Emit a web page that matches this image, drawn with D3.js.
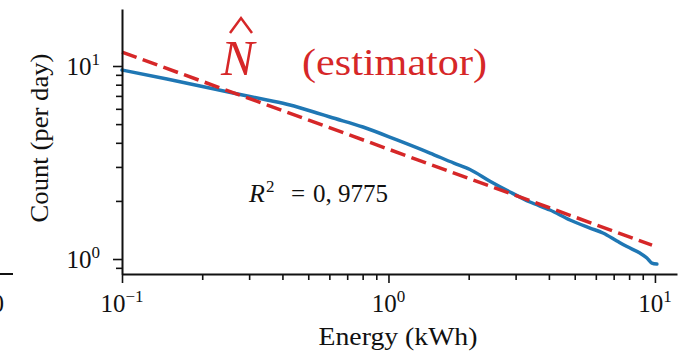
<!DOCTYPE html>
<html>
<head>
<meta charset="utf-8">
<script src="https://cdn.jsdelivr.net/npm/d3@7"></script>
<style>
  html, body { margin: 0; padding: 0; background: #fff; }
  svg { display: block; }
  text { font-family: "Liberation Serif", "Times New Roman", serif; fill: #111; }
</style>
</head>
<body>
<svg id="chart" width="685" height="353"></svg>
<script>
/* measured counts per day against energy (blue curve) */
var energy = [0.1, 0.1475, 0.1962, 0.2609, 0.35, 0.427, 0.539, 0.603, 0.802, 1.076, 1.431, 1.76,
    2.022, 2.404, 2.857, 3.396, 4.036, 4.798, 5.704, 6.38, 7.2, 7.85, 8.78, 9.33, 9.74, 10.17];
var countPerDay = [9.535, 8.56, 7.88, 7.25, 6.67, 6.28, 5.71, 5.44, 4.83, 4.14, 3.54, 3.14,
    2.91, 2.53, 2.225, 1.974, 1.794, 1.593, 1.447, 1.364, 1.24, 1.16, 1.074, 1.012, 0.953, 0.942];

/* power law fit, N-hat (red dashed) */
var estimatorEnergy = [0.1, 9.75];
var estimatorCount = [11.8, 1.18];

var xMajorTicks = [0.1, 1, 10];
var xTickExponents = ["\u22121", "0", "1"];
var yMajorTicks = [1, 10];
var yTickExponents = ["0", "1"];
var xMinorTicks = [0.2, 0.3, 0.4, 0.5, 0.6, 0.7, 0.8, 0.9, 2, 3, 4, 5, 6, 7, 8, 9];
var yMinorTicks = [0.9, 2, 3, 4, 5, 6, 7, 8, 9];

var rSquared = "0, 9775";

var blue = "#1f77b4",
    red = "#d62728";

var svg = d3.select("#chart");

var x = d3.scaleLog().domain([0.1, 12.1]).range([122, 677]);
var y = d3.scaleLog().domain([0.8363, 19.74]).range([274, 9]);

/* piece of the neighbouring panel on the left edge */
svg.append("line")
    .attr("x1", 0).attr("x2", 13)
    .attr("y1", 274).attr("y2", 274)
    .attr("stroke", "#111").attr("stroke-width", 2);
svg.append("text")
    .attr("x", 4).attr("y", 312)
    .attr("text-anchor", "end")
    .attr("font-size", 25)
    .text("0");

/* curves */
var blueData = energy.map(function(e, i) { return [e, countPerDay[i]]; });
var redData = estimatorEnergy.map(function(e, i) { return [e, estimatorCount[i]]; });

var line = d3.line()
    .x(function(d) { return x(d[0]); })
    .y(function(d) { return y(d[1]); })
    .curve(d3.curveMonotoneX);

svg.append("path")
    .datum(blueData)
    .attr("d", line)
    .attr("fill", "none")
    .attr("stroke", blue)
    .attr("stroke-width", 3.5)
    .attr("stroke-linejoin", "round")
    .attr("stroke-linecap", "round");

svg.append("path")
    .datum(redData)
    .attr("d", line)
    .attr("fill", "none")
    .attr("stroke", red)
    .attr("stroke-width", 3.5)
    .attr("stroke-dasharray", "15.5,6.5");

/* axes: major + minor ticks, outward */
function styleAxis(g, width) {
    g.selectAll(".tick line").attr("stroke", "#111").attr("stroke-width", 1.6);
    g.select(".domain").attr("stroke", "#111").attr("stroke-width", width);
}

var xMinor = svg.append("g").attr("transform", "translate(0,274)")
    .call(d3.axisBottom(x).tickValues(xMinorTicks).tickSize(6).tickSizeOuter(0).tickFormat(""));
styleAxis(xMinor, 0);
var xMajor = svg.append("g").attr("transform", "translate(0,274)")
    .call(d3.axisBottom(x).tickValues(xMajorTicks).tickSize(9).tickSizeOuter(0).tickFormat(""));
styleAxis(xMajor, 2);

var yMinor = svg.append("g").attr("transform", "translate(122,0)")
    .call(d3.axisLeft(y).tickValues(yMinorTicks).tickSize(6).tickSizeOuter(0).tickFormat(""));
styleAxis(yMinor, 0);
var yMajor = svg.append("g").attr("transform", "translate(122,0)")
    .call(d3.axisLeft(y).tickValues(yMajorTicks).tickSize(9).tickSizeOuter(0).tickFormat(""));
styleAxis(yMajor, 2);

/* tick labels as 10^k */
xMajorTicks.forEach(function(v, i) {
    var t = svg.append("text")
        .attr("x", x(v))
        .attr("y", 312)
        .attr("text-anchor", "middle")
        .attr("font-size", 25);
    t.append("tspan").text("10");
    t.append("tspan").attr("dy", -10).attr("font-size", 17).text(xTickExponents[i]);
});

yMajorTicks.forEach(function(v, i) {
    var t = svg.append("text")
        .attr("x", 100)
        .attr("y", y(v) + 8.5)
        .attr("text-anchor", "end")
        .attr("font-size", 25);
    t.append("tspan").text("10");
    t.append("tspan").attr("dy", -10).attr("font-size", 17).text(yTickExponents[i]);
});

/* axis titles */
svg.append("text")
    .attr("x", 398)
    .attr("y", 345)
    .attr("text-anchor", "middle")
    .attr("font-size", 25)
    .attr("textLength", 159)
    .attr("lengthAdjust", "spacingAndGlyphs")
    .text("Energy (kWh)");

svg.append("text")
    .attr("transform", "translate(48,138) rotate(-90)")
    .attr("text-anchor", "middle")
    .attr("font-size", 25)
    .attr("textLength", 169)
    .attr("lengthAdjust", "spacingAndGlyphs")
    .text("Count (per day)");

/* estimator annotation */
svg.append("text")
    .attr("x", 221)
    .attr("y", 75)
    .attr("font-size", 50)
    .attr("font-style", "italic")
    .style("fill", red)
    .text("N");
svg.append("path")
    .attr("d", "M230,33 L241,18 L252,33")
    .attr("fill", "none")
    .attr("stroke", red)
    .attr("stroke-width", 2.5);

svg.append("text")
    .attr("x", 302)
    .attr("y", 75)
    .attr("font-size", 38)
    .attr("textLength", 185)
    .attr("lengthAdjust", "spacingAndGlyphs")
    .style("fill", red)
    .text("(estimator)");

/* R^2 */
var r2 = svg.append("text").attr("y", 202).attr("font-size", 25);
r2.append("tspan").attr("x", 249).attr("font-style", "italic").attr("font-size", 26).text("R");
r2.append("tspan").attr("x", 266).attr("dy", -10).attr("font-size", 17).text("2");
r2.append("tspan").attr("x", 291).attr("dy", 10).text("=");
r2.append("tspan").attr("x", 313).text(rSquared);
</script>
</body>
</html>
